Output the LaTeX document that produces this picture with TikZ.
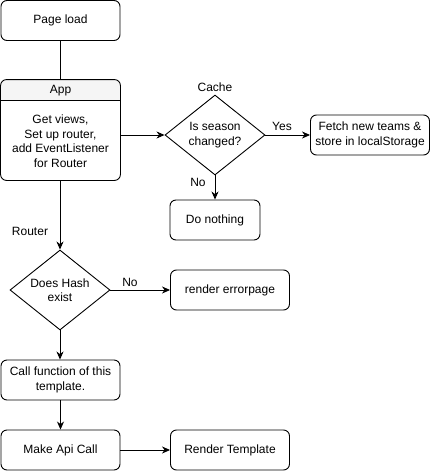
\documentclass[tikz,border=0pt]{standalone}
\usepackage{fontspec}
\setmainfont{Liberation Sans}
\usetikzlibrary{shapes.geometric,arrows.meta}
\definecolor{hdr}{HTML}{F5F5F5}
\tikzset{
  box/.style={draw, rounded corners=6, minimum width=119, minimum height=40, inner sep=0, align=center, line width=0.9pt},
  dec/.style={draw, diamond, aspect=1.25, minimum width=100, minimum height=80, inner sep=0, align=center, line width=0.9pt},
  txt/.style={inner sep=0, align=center},
  conn/.style={line width=0.9pt},
  arr/.style={line width=0.9pt, -{Stealth[length=8pt,width=7pt,inset=2.5pt]}},
  every node/.style={font=\fontsize{12}{14.5}\selectfont}
}
\begin{document}
\begin{tikzpicture}[x=1pt,y=-1pt]
\useasboundingbox (0,0) rectangle (442,472);
\fill[white] (0,0) rectangle (442,472);
% nodes
\node[box] (page) at (60.5,20.5) {Page load};
\node[box, draw=none, minimum height=100] (app) at (60.5,130) {};
\fill[hdr] (app.west |- 0,100) [rounded corners=6] -- (app.north west) -- (app.north east) [sharp corners] -- (app.east |- 0,100) -- cycle;
\draw[conn] (app.west |- 0,100) -- (app.east |- 0,100);
\draw[conn, rounded corners=6] (app.north west) rectangle (app.south east);
\node[txt] (apptitle) at (60.5,90.5) {App};
\node[txt] (appbody) at (60.5,141) {Get views,\\Set up router,\\add EventListener\\for Router};
\node[dec] (season) at (215,135) {Is season\\changed?};
\node[box] (fetch) at (370,135) {Fetch new teams \&\\store in localStorage};
\node[box, minimum width=90] (nothing) at (215,220) {Do nothing};
\node[dec] (hash) at (60,290) {Does Hash\\exist};
\node[box] (error) at (230,290) {render errorpage};
\node[box] (call) at (60.5,380) {Call function of this\\template.};
\node[box] (api) at (60.5,450) {Make Api Call};
\node[box] (render) at (230,450) {Render Template};
% labels
\node[txt] (cache) at (215,87) {Cache};
\node[txt] (yes) at (282,126) {Yes};
\node[txt] (no1) at (198,182) {No};
\node[txt] (router) at (30,231) {Router};
\node[txt] (no2) at (130,282) {No};
% connectors
\draw[conn] (page) -- (app);
\draw[arr] (app.east |- season) -- (season.west);
\draw[arr] (season.east) -- (fetch.west);
\draw[arr] (season.south) -- (nothing.north);
\draw[arr] (app.south -| hash) -- (hash.north);
\draw[arr] (hash.east) -- (error.west);
\draw[arr] (hash.south) -- (call.north -| hash);
\draw[arr] (call) -- (api);
\draw[arr] (api) -- (render);
\end{tikzpicture}
\end{document}
